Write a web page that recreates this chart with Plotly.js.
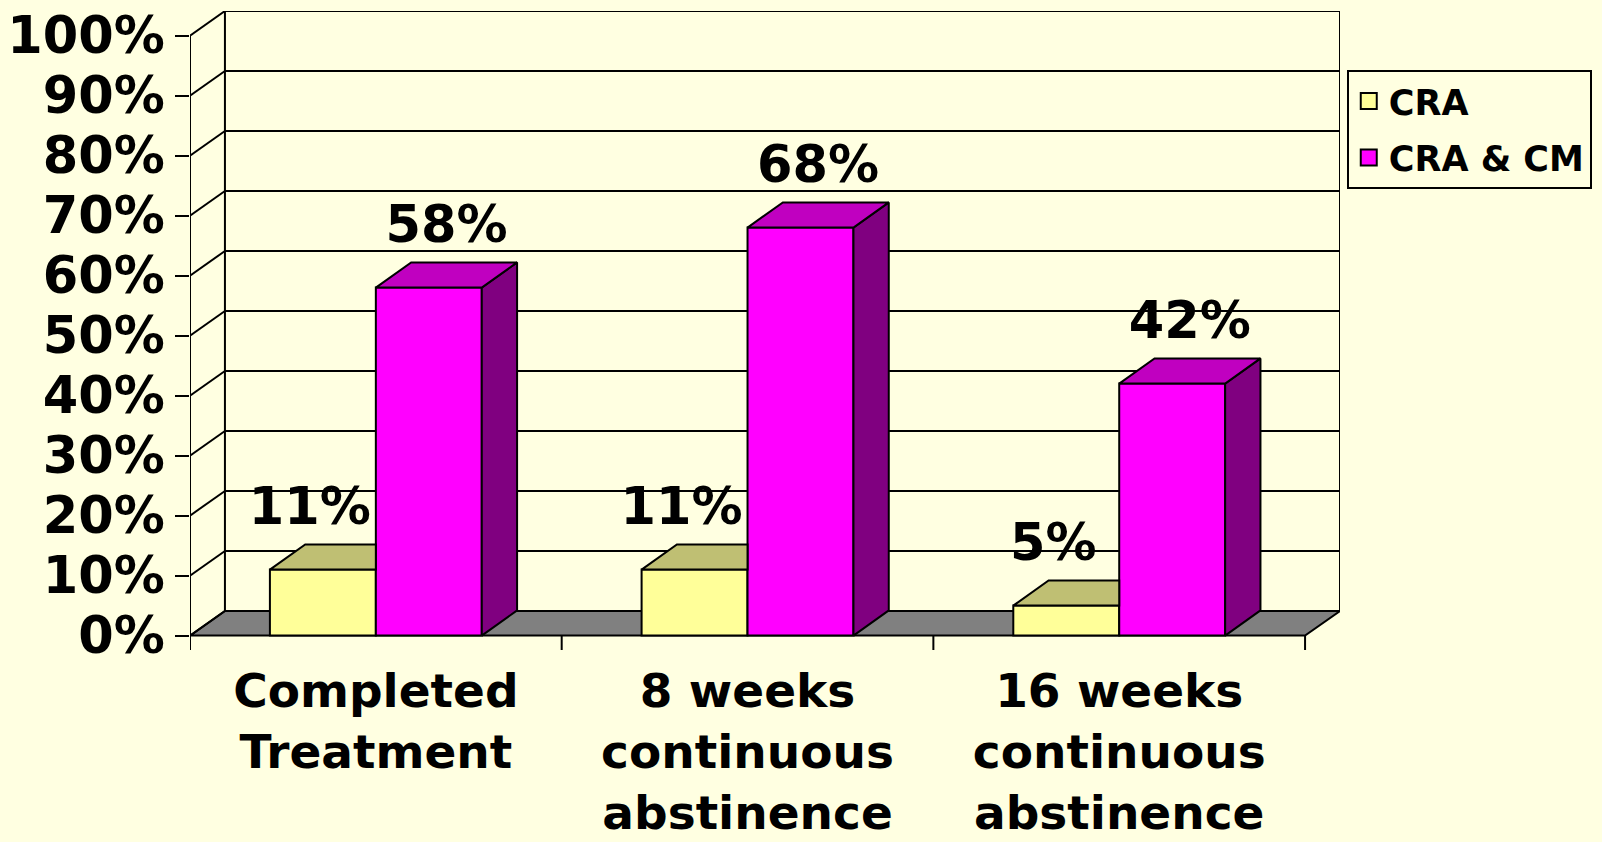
<!DOCTYPE html>
<html>
<head>
<meta charset="utf-8">
<script src="https://cdn.plot.ly/plotly-3.0.1.min.js"></script>
<style>
  html, body { margin: 0; padding: 0; background: #FFFFE1; }
  #chart { width: 1602px; height: 842px; }
</style>
</head>
<body>
<div id="chart"></div>
<script>
// ---- data ----
const categories = ['Completed<br>Treatment', '8 weeks<br>continuous<br>abstinence', '16 weeks<br>continuous<br>abstinence'];
const seriesNames = ['CRA', 'CRA & CM'];
const craValues = [11, 11, 5];
const cmValues = [58, 68, 42];
const yTickValues = [0, 10, 20, 30, 40, 50, 60, 70, 80, 90, 100];
const yTickLabels = ['0%', '10%', '20%', '30%', '40%', '50%', '60%', '70%', '80%', '90%', '100%'];

// ---- geometry / style ----
const BG = '#FFFFE1';
const BAR_W = 0.285;          // width of one bar in category units
const DX = 0.095;             // depth offset (x units)
const DY = 4.2;               // depth offset (y units, %)
const WALL_DX = 0.094, WALL_DY = 4.1;
const Y_MIN = -2.4, Y_MAX = 100 + WALL_DY;
const X_MAX = categories.length + WALL_DX;
const LABEL_OFFSET = 9.7;
const LABEL_FONT = {family: 'DejaVu Sans', size: 51, weight: 'bold', color: '#000'};
const colors = {
  craFront: '#FFFF99', craTop: '#BFBF73',
  cmFront: '#FF00FF', cmTop: '#C000C0', cmSide: '#800080',
  floor: '#808080'
};
const catPos = categories.map((_, i) => i + 0.5);
const groups = ['cra', 'cm'];

const traces = [];
function poly(xs, ys, fill, group) {
  traces.push({
    type: 'scatter', mode: 'lines', x: xs.concat([xs[0]]), y: ys.concat([ys[0]]),
    fill: 'toself', fillcolor: fill, line: {color: '#000', width: 2},
    legendgroup: group, hoverinfo: 'skip', showlegend: false
  });
}

// front faces (bars)
traces.push({
  type: 'bar', name: seriesNames[0], legendgroup: groups[0], showlegend: false,
  x: catPos, y: craValues, width: BAR_W, offset: -BAR_W,
  marker: {color: colors.craFront, line: {color: '#000', width: 2}},
  hoverinfo: 'skip'
});
traces.push({
  type: 'bar', name: seriesNames[1], legendgroup: groups[1], showlegend: false,
  x: catPos, y: cmValues, width: BAR_W, offset: 0,
  marker: {color: colors.cmFront, line: {color: '#000', width: 2}},
  hoverinfo: 'skip'
});

// 3D faces computed from the data
catPos.forEach((c, i) => {
  const v1 = craValues[i], v2 = cmValues[i];
  const a0 = c - BAR_W, a1 = c, b1 = c + BAR_W;
  poly([a0, a1, a1, a0 + DX], [v1, v1, v1 + DY, v1 + DY], colors.craTop, groups[0]);
  poly([b1, b1 + DX, b1 + DX, b1], [0, DY, v2 + DY, v2], colors.cmSide, groups[1]);
  poly([a1, b1, b1 + DX, a1 + DX], [v2, v2, v2 + DY, v2 + DY], colors.cmTop, groups[1]);
});

// data labels
traces.push({
  type: 'scatter', mode: 'text', legendgroup: groups[0],
  x: catPos.map(c => c - BAR_W / 2 - 0.035),
  y: craValues.map(v => v + LABEL_OFFSET), text: craValues.map(v => v + '%'),
  textposition: 'middle center', textfont: LABEL_FONT,
  cliponaxis: false, showlegend: false, hoverinfo: 'skip'
});
traces.push({
  type: 'scatter', mode: 'text', legendgroup: groups[1],
  x: catPos.map(c => c + BAR_W / 2 + DX / 2),
  y: cmValues.map(v => v + LABEL_OFFSET), text: cmValues.map(v => v + '%'),
  textposition: 'middle center', textfont: LABEL_FONT,
  cliponaxis: false, showlegend: false, hoverinfo: 'skip'
});

// legend entries (larger square keys) for the two series
[[seriesNames[0], colors.craFront, groups[0]], [seriesNames[1], colors.cmFront, groups[1]]].forEach(([n, col, g]) => {
  traces.push({
    type: 'scatter', mode: 'markers', name: n, legendgroup: g,
    x: [null], y: [null],
    marker: {symbol: 'square', size: 16, color: col, line: {color: '#000', width: 2}},
    hoverinfo: 'skip'
  });
});

// ---- frame: floor, walls, gridlines ----
const shapes = [];
const ln = {color: '#000', width: 2};
shapes.push({type: 'path', xref: 'x', yref: 'y', layer: 'below',
  path: `M0,0 L${categories.length},0 L${X_MAX},${WALL_DY} L${WALL_DX},${WALL_DY} Z`,
  fillcolor: colors.floor, line: ln});
yTickValues.forEach(v => {
  shapes.push({type: 'line', xref: 'x', yref: 'y', layer: 'below',
    x0: 0, y0: v, x1: WALL_DX, y1: v + WALL_DY, line: ln});
  shapes.push({type: 'line', xref: 'x', yref: 'y', layer: 'below',
    x0: WALL_DX, y0: v + WALL_DY, x1: X_MAX, y1: v + WALL_DY, line: ln});
});
shapes.push({type: 'line', xref: 'x', yref: 'y', layer: 'below',
  x0: WALL_DX, y0: WALL_DY, x1: WALL_DX, y1: Y_MAX, line: ln});
shapes.push({type: 'line', xref: 'x', yref: 'y', layer: 'below',
  x0: X_MAX, y0: WALL_DY, x1: X_MAX, y1: Y_MAX, line: ln});
shapes.push({type: 'line', xref: 'x', yref: 'y', layer: 'above',
  x0: 0, y0: Y_MIN, x1: 0, y1: 100, line: ln});
for (let k = 0; k <= categories.length; k++) {
  shapes.push({type: 'line', xref: 'x', yref: 'y', layer: 'above',
    x0: k, y0: 0, x1: k, y1: Y_MIN, line: ln});
}

const layout = {
  width: 1602, height: 842,
  paper_bgcolor: BG, plot_bgcolor: BG,
  margin: {l: 190, r: 261, t: 11, b: 192},
  barmode: 'overlay',
  showlegend: true,
  legend: {
    x: 1.005, y: 0.908, xanchor: 'left', yanchor: 'top',
    bgcolor: BG, bordercolor: '#000', borderwidth: 2,
    font: {family: 'DejaVu Sans', size: 35, weight: 'bold', color: '#000'},
    traceorder: 'grouped', tracegroupgap: 8, itemwidth: 30
  },
  xaxis: {
    range: [0, X_MAX], tickvals: catPos, ticktext: categories,
    showgrid: false, zeroline: false, showline: false, ticks: '',
    ticklabelstandoff: 9,
    tickfont: {family: 'DejaVu Sans', size: 47, weight: 'bold', color: '#000'},
    fixedrange: true
  },
  yaxis: {
    range: [Y_MIN, Y_MAX], tickvals: yTickValues, ticktext: yTickLabels,
    showgrid: false, zeroline: false, showline: false,
    ticks: 'outside', ticklen: 14, tickwidth: 2, tickcolor: '#000',
    ticklabelstandoff: 0,
    tickfont: LABEL_FONT, fixedrange: true
  },
  shapes: shapes
};

Plotly.newPlot('chart', traces, layout, {displayModeBar: false, staticPlot: true});
</script>
</body>
</html>
